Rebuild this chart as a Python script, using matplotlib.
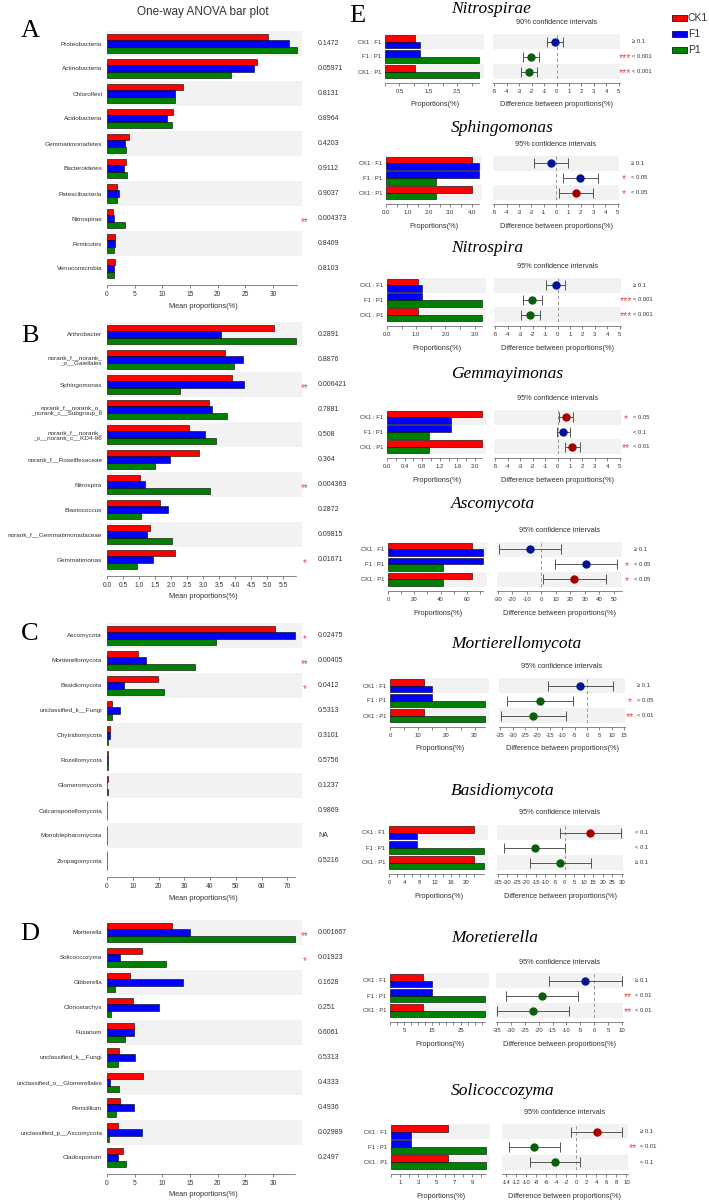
import numpy as np
import matplotlib.pyplot as plt
from matplotlib.patches import Rectangle
from matplotlib.transforms import blended_transform_factory

plt.rcParams['font.family'] = ['Liberation Sans', 'DejaVu Sans']
plt.rcParams['axes.unicode_minus'] = False

W, H = 709, 1201

# ---- one-way ANOVA panels (A-D), mean proportions (%) for CK1 / F1 / P1
a_taxa = ["Proteobacteria", "Actinobacteria", "Chloroflexi", "Acidobacteria",
          "Gemmatimonadetes", "Bacteroidetes", "Patescibacteria", "Nitrospirae",
          "Firmicutes", "Verrucomicrobia"]
a_ck1 = [29.0, 27.0, 13.7, 12.0, 3.9, 3.4, 1.8, 1.1, 1.45, 1.5]
a_f1 = [32.8, 26.5, 12.2, 10.9, 3.3, 3.1, 2.2, 1.25, 1.4, 1.3]
a_p1 = [34.3, 22.3, 12.3, 11.8, 3.5, 3.55, 1.8, 3.3, 1.25, 1.3]
a_pval = ["0.1472", "0.05971", "0.8131", "0.8964", "0.4203", "0.9112", "0.9037",
          "0.004373", "0.8409", "0.8103"]
a_star = ["", "", "", "", "", "", "", "**", "", ""]

b_taxa = ["Arthrobacter", "norank_f__norank_\n_o__Gaiellales", "Sphingomonas",
          "norank_f__norank_o_\n_norank_c__Subgroup_6",
          "norank_f__norank_\n_o__norank_c__KD4-96", "norank_f__Roseiflexaceae",
          "Nitrospira", "Blastococcus", "norank_f__Gemmatimonadaceae", "Gemmatimonas"]
b_ck1 = [5.21, 3.69, 3.91, 3.19, 2.56, 2.86, 1.04, 1.65, 1.33, 2.13]
b_f1 = [3.55, 4.24, 4.27, 3.28, 3.07, 1.95, 1.19, 1.91, 1.24, 1.44]
b_p1 = [5.88, 3.95, 2.29, 3.73, 3.39, 1.50, 3.21, 1.06, 2.04, 0.94]
b_pval = ["0.2891", "0.8876", "0.006421", "0.7881", "0.508", "0.364", "0.004363",
          "0.2872", "0.09815", "0.01671"]
b_star = ["", "", "**", "", "", "", "**", "", "", "*"]

c_taxa = ["Ascomycota", "Mortierellomycota", "Basidiomycota", "unclassified_k__Fungi",
          "Chytridiomycota", "Rozellomycota", "Glomeromycota", "Calcarisporiellomycota",
          "Monoblepharomycota", "Zoopagomycota"]
c_ck1 = [65.1, 12.2, 19.9, 2.1, 1.3, 0.25, 0.2, 0.06, 0.03, 0.05]
c_f1 = [73.1, 15.1, 6.6, 5.1, 1.0, 0.2, 0.15, 0.05, 0.02, 0.04]
c_p1 = [42.3, 34.1, 22.1, 1.9, 0.3, 0.2, 0.25, 0.05, 0.03, 0.05]
c_pval = ["0.02475", "0.00405", "0.0412", "0.5313", "0.3101", "0.5756", "0.1237",
          "0.9869", "NA", "0.5216"]
c_star = ["*", "**", "*", "", "", "", "", "", "", ""]

d_taxa = ["Mortierella", "Solicoccozyma", "Gibberella", "Clonostachys", "Fusarium",
          "unclassified_k__Fungi", "unclassified_o__Glomerellales", "Penicillium",
          "unclassified_p__Ascomycota", "Cladosporium"]
d_ck1 = [11.8, 6.4, 4.1, 4.7, 4.8, 2.1, 6.5, 2.4, 1.9, 2.8]
d_f1 = [15.0, 2.3, 13.7, 9.4, 4.8, 5.1, 0.6, 4.9, 6.3, 2.0]
d_p1 = [33.9, 10.7, 1.4, 0.7, 3.2, 2.0, 2.1, 1.6, 0.4, 3.5]
d_pval = ["0.001667", "0.01923", "0.1628", "0.251", "0.6061", "0.5313", "0.4333",
          "0.4936", "0.02989", "0.2497"]
d_star = ["**", "*", "", "", "", "", "", "", "", ""]

# ---- pairwise comparisons (E)
groups = ["CK1", "F1", "P1"]
comparisons = ["CK1 : F1", "F1 : P1", "CK1 : P1"]
e_taxa = ["Nitrospirae", "Sphingomonas", "Nitrospira", "Gemmayimonas", "Ascomycota",
          "Mortierellomycota", "Basidiomycota", "Moretierella", "Solicoccozyma"]
e_level = ["90%", "95%", "95%", "95%", "95%", "95%", "95%", "95%", "95%"]
e_ck1 = [1.04, 3.99, 1.06, 2.16, 64.0, 12.2, 22.0, 11.7, 6.3]
e_f1 = [1.21, 4.34, 1.21, 1.46, 72.2, 14.9, 7.2, 14.8, 2.2]
e_p1 = [3.27, 2.35, 3.25, 0.96, 41.8, 33.7, 24.5, 33.6, 10.6]
e_diff = [[-0.15, -2.03, -2.19], [-0.41, 1.95, 1.60], [-0.15, -2.02, -2.20],
          [0.67, 0.46, 1.17], [-7.9, 30.5, 22.8], [-2.8, -19.0, -21.8],
          [13.3, -15.7, -2.2], [-3.2, -18.9, -22.1], [4.1, -8.4, -4.2]]
e_lo = [[-0.80, -2.67, -2.82], [-1.79, 0.57, 0.25], [-0.94, -2.81, -2.94],
        [0.12, -0.07, 0.59], [-29.3, 9.3, 1.4], [-15.8, -32.1, -34.7],
        [-2.4, -31.6, -17.9], [-16.1, -31.7, -35.0], [-1.0, -13.4, -9.3]]
e_hi = [[0.50, -1.42, -1.55], [0.97, 3.36, 2.98], [0.62, -1.23, -1.44],
        [1.25, 1.04, 1.81], [13.3, 52.0, 44.2], [10.3, -5.7, -8.4],
        [29.5, 0.0, 13.6], [9.8, -5.8, -9.1], [9.1, -3.3, 0.8]]
e_pval = [["≥ 0.1", "< 0.001", "< 0.001"], ["≥ 0.1", "< 0.05", "< 0.05"],
          ["≥ 0.1", "< 0.001", "< 0.001"], ["< 0.05", "< 0.1", "< 0.01"],
          ["≥ 0.1", "< 0.05", "< 0.05"], ["≥ 0.1", "< 0.05", "< 0.01"],
          ["< 0.1", "< 0.1", "≥ 0.1"], ["≥ 0.1", "< 0.01", "< 0.01"],
          ["≥ 0.1", "< 0.01", "< 0.1"]]
e_star = [["", "***", "***"], ["", "*", "*"], ["", "***", "***"], ["*", "", "**"],
          ["", "*", "*"], ["", "*", "**"], ["", "", ""], ["", "**", "**"],
          ["", "**", ""]]

RED, BLUE, GREEN = "#FF0000", "#0000FF", "#008000"
bar_col = [RED, BLUE, GREEN]
dot_col = ["#A00000", "#001496", "#0B5E0B"]
BAND = "#F2F2F2"
STAR = "#E8474A"
TXT = "#333333"
SERIF = ["Liberation Serif", "DejaVu Serif"]

fig = plt.figure(figsize=(W / 100, H / 100), dpi=100)


def box(x0, y0, x1, y1):
    return [x0 / W, 1 - y1 / H, (x1 - x0) / W, (y1 - y0) / H]


def fx(x):
    return x / W


def fy(y):
    return 1 - y / H


def style_x(ax, lo, hi, size):
    for s in ["left", "top", "right"]:
        ax.spines[s].set_visible(False)
    ax.spines["bottom"].set_position(("outward", 3))
    ax.spines["bottom"].set_bounds(lo, hi)
    ax.spines["bottom"].set_linewidth(0.5)
    ax.spines["bottom"].set_color("#555555")
    ax.tick_params(axis="x", length=2.5, width=0.5, color="#555555",
                   labelsize=size, pad=1.5, labelcolor=TXT)
    ax.tick_params(axis="y", length=0, labelcolor=TXT)


# ---------------- A-D ----------------
fig.text(fx(203), fy(12), "One-way ANOVA bar plot", fontsize=8.5, color=TXT,
         ha="center", va="center")

left_panels = [
    ("A", a_taxa, a_ck1, a_f1, a_p1, a_pval, a_star, 31, 35.2, np.arange(0, 31, 5), "%d", 37),
    ("B", b_taxa, b_ck1, b_f1, b_p1, b_pval, b_star, 322, 6.08, np.arange(0, 5.51, 0.5), "%.1f", 342),
    ("C", c_taxa, c_ck1, c_f1, c_p1, c_pval, c_star, 623, 75.7, np.arange(0, 71, 10), "%d", 640),
    ("D", d_taxa, d_ck1, d_f1, d_p1, d_pval, d_star, 920, 35.2, np.arange(0, 31, 5), "%d", 940),
]

for letter, taxa, ck1, f1, p1, pvals, stars, top, xmax, ticks, fmt, lb in left_panels:
    ax = fig.add_axes(box(107, top, 302, top + 250))
    n = len(taxa)
    y = np.arange(n)
    for i in range(0, n, 2):
        ax.axhspan(i - 0.5, i + 0.5, color=BAND, lw=0, zorder=0)
    bh = 0.26
    for off, vals, col in [(-bh, ck1, RED), (0, f1, BLUE), (bh, p1, GREEN)]:
        ax.barh(y + off, vals, height=bh, color=col, edgecolor="black", linewidth=0.4)
    ax.set_xlim(0, xmax)
    ax.set_ylim(n - 0.5, -0.5)
    ax.set_yticks(y, taxa, fontsize=4.6)
    ax.set_xticks(ticks, [fmt % t for t in ticks])
    style_x(ax, 0, max(max(ck1), max(f1), max(p1)), 4.8)
    ax.tick_params(axis="y", pad=3.5)
    tr = blended_transform_factory(fig.transFigure, ax.transData)
    for i in range(n):
        ax.text(fx(318), i, pvals[i], transform=tr, fontsize=5, color=TXT,
                ha="left", va="center")
        if stars[i]:
            ax.text(fx(305), i + 0.15, stars[i], transform=tr, fontsize=7, color=STAR,
                    ha="center", va="center")
    fig.text(fx(203), fy(top + 275), "Mean proportions(%)", fontsize=5.3, color=TXT,
             ha="center", va="center")
    fig.text(fx(30), fy(lb), letter, family=SERIF, fontsize=19, ha="center", va="baseline")

# ---------------- E ----------------
fig.text(fx(357), fy(22), "E", family=SERIF, fontsize=19, ha="center", va="baseline")

# title_y, ci_y, row_top, row_bottom, left axes x0, x1, right axes x0, x1
e_layout = [
    (8, 23, 34, 79, 385, 484, 493, 620),
    (127, 144, 156, 200, 386, 482, 493, 619),
    (247, 266, 278, 322, 387, 486, 494, 621),
    (373, 398, 410, 454, 387, 486, 494, 621),
    (503, 531, 542, 587, 388, 487, 497, 622),
    (643, 667, 678, 723, 390, 489, 499, 625),
    (790, 813, 825, 870, 389, 488, 497, 623),
    (937, 963, 973, 1018, 390, 489, 496, 623),
    (1090, 1113, 1124, 1170, 391, 490, 502, 628),
]
e_lxmax = [3.43, 4.48, 3.39, 2.25, 75.2, 35.1, 25.6, 35.1, 11.0]
e_lticks = [np.arange(0, 3.01, 0.5), np.arange(0, 4.01, 0.5), np.arange(0, 3.01, 0.5),
            np.arange(0, 2.01, 0.2), np.arange(0, 71, 10), np.arange(0, 31, 5),
            np.arange(0, 23, 2), np.arange(0, 33, 2.5), np.arange(0, 11, 1)]
e_llab = [([0.5, 1.5, 2.5], "%.1f"), ([0, 1, 2, 3, 4], "%.1f"), ([0, 1, 2, 3], "%.1f"),
          ([0, 0.4, 0.8, 1.2, 1.6, 2.0], "%.1f"), ([0, 20, 40, 60], "%d"),
          ([0, 10, 20, 30], "%d"), ([0, 4, 8, 12, 16, 20], "%d"), ([5, 15, 25], "%d"),
          ([1, 3, 5, 7, 9], "%d")]
e_rlim = [(-5.1, 5.1), (-5.1, 5.1), (-5.1, 5.1), (-5.1, 5.1), (-30.5, 55.5),
          (-35.5, 15.3), (-35.3, 30.5), (-35.3, 10.3), (-14.8, 10.3)]
e_rticks = [np.arange(-5, 6, 1)] * 4 + [np.arange(-30, 51, 10), np.arange(-35, 16, 5),
                                         np.arange(-35, 31, 5), np.arange(-35, 11, 5),
                                         np.arange(-14, 11, 2)]
pairs = [(0, 1), (1, 2), (0, 2)]

for k in range(len(e_taxa)):
    ty, cy, rt, rb, lx0, lx1, rx0, rx1 = e_layout[k]
    means = [e_ck1[k], e_f1[k], e_p1[k]]

    axl = fig.add_axes(box(lx0, rt, lx1, rb))
    for r in (0, 2):
        axl.axhspan(r - 0.5, r + 0.5, color=BAND, lw=0, zorder=0)
    for r, (g1, g2) in enumerate(pairs):
        axl.barh(r - 0.225, means[g1], height=0.45, color=bar_col[g1],
                 edgecolor="black", linewidth=0.4)
        axl.barh(r + 0.225, means[g2], height=0.45, color=bar_col[g2],
                 edgecolor="black", linewidth=0.4)
    axl.set_xlim(0, e_lxmax[k])
    axl.set_ylim(2.5, -0.5)
    axl.set_yticks(range(3), comparisons, fontsize=4.2)
    labeled, fmt = e_llab[k]
    lt = e_lticks[k]
    axl.set_xticks(lt, [fmt % t if any(abs(t - v) < 1e-9 for v in labeled) else "" for t in lt])
    style_x(axl, 0, max(means), 4.3)
    axl.tick_params(axis="y", pad=2.5)

    axr = fig.add_axes(box(rx0, rt, rx1, rb))
    for r in (0, 2):
        axr.axhspan(r - 0.5, r + 0.5, color=BAND, lw=0, zorder=0)
    axr.axvline(0, color="#888888", lw=0.6, ls=(0, (4, 3)), zorder=1)
    for r, (g1, g2) in enumerate(pairs):
        d = e_diff[k][r]
        g = g1 if d > 0 else g2
        axr.errorbar(d, r, xerr=[[d - e_lo[k][r]], [e_hi[k][r] - d]], fmt="o",
                     color=dot_col[g], ms=5, ecolor="#555555", elinewidth=0.7,
                     capsize=3.5, capthick=0.7, zorder=3)
    axr.set_xlim(*e_rlim[k])
    axr.set_ylim(2.5, -0.5)
    axr.set_yticks([])
    rt_ = e_rticks[k]
    axr.set_xticks(rt_, ["%d" % t for t in rt_])
    style_x(axr, e_rlim[k][0], e_rlim[k][1], 4.3)

    tr = blended_transform_factory(fig.transFigure, axr.transData)
    for r in range(3):
        axr.text(fx(rx1 + 12), r, e_pval[k][r], transform=tr, fontsize=4.2, color=TXT,
                 ha="left", va="center")
        if e_star[k][r]:
            axr.text(fx(rx1 + 5), r + 0.1, e_star[k][r], transform=tr, fontsize=7.5,
                     color=STAR, ha="center", va="center")

    fig.text(fx(451), fy(ty + 5), e_taxa[k], family=SERIF, style="italic", fontsize=12.5,
             ha="left", va="baseline")
    fig.text(fx((rx0 + rx1) / 2), fy(cy), e_level[k] + " confidence intervals",
             fontsize=5.3, color=TXT, ha="center", va="center")
    fig.text(fx((lx0 + lx1) / 2), fy(rb + 26), "Proportions(%)", fontsize=5.3,
             color=TXT, ha="center", va="center")
    fig.text(fx((rx0 + rx1) / 2), fy(rb + 26), "Difference between proportions(%)",
             fontsize=5.3, color=TXT, ha="center", va="center")

# legend
for i, name in enumerate(groups):
    yc = 18 + i * 16
    fig.add_artist(Rectangle((fx(672), fy(yc + 3)), 15 / W, 6 / H, transform=fig.transFigure,
                             facecolor=bar_col[i], edgecolor="black", linewidth=0.5))
    fig.text(fx(688), fy(yc), name, fontsize=7.5, color=TXT, ha="left", va="center")

fig.savefig("out.png", dpi=100, facecolor="white")
